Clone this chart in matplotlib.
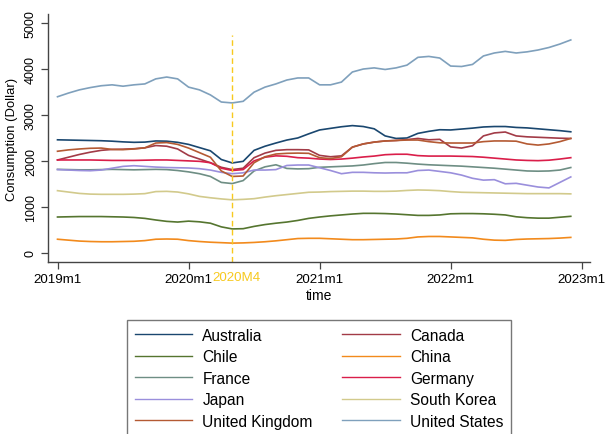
import matplotlib
matplotlib.use("Agg")
import matplotlib.pyplot as plt
import numpy as np

# ---- data (monthly, 2019m1 .. 2022m12) ----
countries = ["Australia", "Canada", "Chile", "China", "France",
             "Germany", "Japan", "South Korea", "United Kingdom", "United States"]

australia = [2460, 2455, 2450, 2445, 2440, 2430, 2415, 2405, 2410, 2435, 2430, 2405,
             2360, 2290, 2220, 2030, 1955, 1990, 2230, 2320, 2390, 2455, 2500, 2590,
             2675, 2710, 2745, 2770, 2750, 2700, 2545, 2490, 2500, 2600, 2645, 2680,
             2675, 2695, 2715, 2740, 2750, 2750, 2730, 2720, 2700, 2680, 2660, 2635]
canada = [2020, 2080, 2140, 2190, 2230, 2250, 2255, 2265, 2285, 2335, 2320, 2260,
          2120, 2040, 1960, 1860, 1810, 1840, 2070, 2170, 2230, 2245, 2245, 2240,
          2120, 2090, 2110, 2300, 2370, 2410, 2435, 2445, 2465, 2490, 2460, 2470,
          2305, 2280, 2330, 2545, 2610, 2630, 2545, 2525, 2515, 2505, 2495, 2490]
chile = [775, 780, 785, 785, 785, 780, 775, 765, 745, 710, 680, 665,
         685, 670, 640, 560, 515, 520, 570, 610, 640, 665, 700, 745,
         775, 800, 820, 840, 855, 855, 850, 840, 825, 810, 810, 820,
         845, 850, 850, 845, 835, 820, 780, 760, 750, 750, 770, 790]
china = [290, 270, 250, 240, 235, 235, 240, 245, 260, 290, 295, 290,
         260, 240, 225, 215, 205, 210, 220, 235, 255, 280, 305, 310,
         310, 300, 290, 280, 280, 285, 290, 295, 310, 340, 350, 350,
         340, 330, 320, 290, 270, 265, 285, 295, 300, 305, 315, 330]
france = [1815, 1810, 1805, 1805, 1810, 1815, 1810, 1805, 1810, 1815, 1810, 1790,
          1760, 1720, 1660, 1530, 1505, 1570, 1780, 1870, 1915, 1835, 1825, 1830,
          1860, 1870, 1880, 1890, 1910, 1940, 1965, 1965, 1950, 1930, 1915, 1905,
          1895, 1885, 1870, 1855, 1840, 1820, 1800, 1780, 1775, 1780, 1800, 1855]
germany = [2020, 2020, 2020, 2020, 2015, 2010, 2010, 2010, 2015, 2020, 2020, 2010,
           2000, 1990, 1960, 1840, 1790, 1810, 2000, 2080, 2110, 2100, 2070, 2060,
           2040, 2030, 2040, 2060, 2085, 2105, 2135, 2145, 2145, 2115, 2105, 2105,
           2105, 2100, 2095, 2080, 2060, 2040, 2020, 2010, 2005, 2015, 2040, 2070]
japan = [1810, 1800, 1790, 1785, 1800, 1840, 1880, 1895, 1880, 1865, 1855, 1850,
         1845, 1830, 1800, 1750, 1720, 1740, 1800, 1800, 1810, 1900, 1910, 1910,
         1850, 1790, 1720, 1750, 1750, 1740, 1735, 1740, 1740, 1790, 1800, 1770,
         1740, 1690, 1620, 1580, 1590, 1500, 1510, 1470, 1430, 1410, 1530, 1650]
south_korea = [1350, 1320, 1290, 1275, 1270, 1270, 1270, 1275, 1285, 1330, 1335, 1320,
               1280, 1225, 1195, 1170, 1150, 1160, 1175, 1210, 1240, 1265, 1290, 1315,
               1320, 1330, 1335, 1340, 1340, 1335, 1335, 1340, 1355, 1365, 1360, 1350,
               1330, 1315, 1310, 1305, 1300, 1295, 1290, 1285, 1285, 1285, 1285, 1280]
united_kingdom = [2210, 2240, 2260, 2275, 2280, 2250, 2245, 2260, 2285, 2390, 2400, 2360,
                  2280, 2180, 2080, 1780, 1660, 1670, 1960, 2090, 2150, 2165, 2170, 2165,
                  2070, 2050, 2090, 2300, 2370, 2410, 2435, 2445, 2455, 2455, 2420, 2395,
                  2390, 2390, 2390, 2420, 2435, 2435, 2430, 2370, 2345, 2370, 2420, 2490]
united_states = [3400, 3480, 3550, 3600, 3640, 3660, 3630, 3660, 3680, 3790, 3830, 3790,
                 3610, 3550, 3440, 3285, 3265, 3300, 3500, 3610, 3680, 3765, 3810, 3810,
                 3660, 3660, 3720, 3940, 4005, 4030, 3995, 4030, 4090, 4260, 4280, 4245,
                 4070, 4060, 4105, 4290, 4355, 4390, 4355, 4380, 4420, 4475, 4550, 4640]

series = [australia, canada, chile, china, france, germany, japan,
          south_korea, united_kingdom, united_states]

tick_positions = [0, 12, 24, 36, 48]
tick_labels = ["2019m1", "2020m1", "2021m1", "2022m1", "2023m1"]
y_ticks = [0, 1000, 2000, 3000, 4000, 5000]
event_pos = 16
event_label = "2020M4"

colors = ["#1a476f", "#a23b47", "#55752f", "#f28a1c", "#6e8e84",
          "#da1e4a", "#9a8fdc", "#d2ca8c", "#b45a33", "#7fa0bc"]

# ---- figure ----
plt.rcParams['font.family'] = ['Liberation Sans', 'DejaVu Sans']
fig = plt.figure(figsize=(6.05, 4.35), dpi=100)
ax = fig.add_axes([48/605, 1-263/435, (590-48)/605, (263-15)/435])

months = np.arange(len(australia))
handles = []
for name, vals, c in zip(countries, series, colors):
    h, = ax.plot(months, vals, color=c, lw=1.2, label=name)
    handles.append(h)

ax.axvline(event_pos, ymin=0, ymax=0.915, color="#f7c91e", lw=1.0, ls=(0, (4, 2.5)))

ax.set_xlim(-0.87, 48.76)
ax.set_ylim(-207, 5206)
ax.set_xticks(tick_positions)
ax.set_xticklabels(tick_labels, fontsize=9.6)
ax.set_yticks(y_ticks)
ax.set_yticklabels([str(v) for v in y_ticks], fontsize=9, rotation=90, va='center')

ax.text(event_pos + 0.35, -(6 + 3.5) / (263 - 15), event_label,
        transform=ax.get_xaxis_transform(),
        ha='center', va='top', fontsize=9.6, color="#f7c91e")

for s in ["top", "right"]:
    ax.spines[s].set_visible(False)
for s in ["left", "bottom"]:
    ax.spines[s].set_color("#444444")
    ax.spines[s].set_linewidth(1.0)
ax.tick_params(axis='both', direction='out', length=5, width=0.9, color="#444444", pad=3)

ax.set_ylabel("Consumption (Dollar)", fontsize=9.4, labelpad=5)
ax.set_xlabel("time", fontsize=10, labelpad=2)

# row-major legend order (matplotlib fills column-wise)
order = list(range(0, len(handles), 2)) + list(range(1, len(handles), 2))
leg = fig.legend([handles[i] for i in order], [countries[i] for i in order],
                 loc='upper left', bbox_to_anchor=(127/605, 1-321/435), ncol=2,
                 fontsize=11.2, frameon=True, fancybox=False, edgecolor="#555555",
                 handlelength=3.7, handletextpad=0.65, columnspacing=1.9,
                 labelspacing=0.42, borderpad=0.5, borderaxespad=0)
leg.get_frame().set_linewidth(1.0)
for h in leg.get_lines():
    h.set_linewidth(1.0)

fig.savefig("out.png", dpi=100)
